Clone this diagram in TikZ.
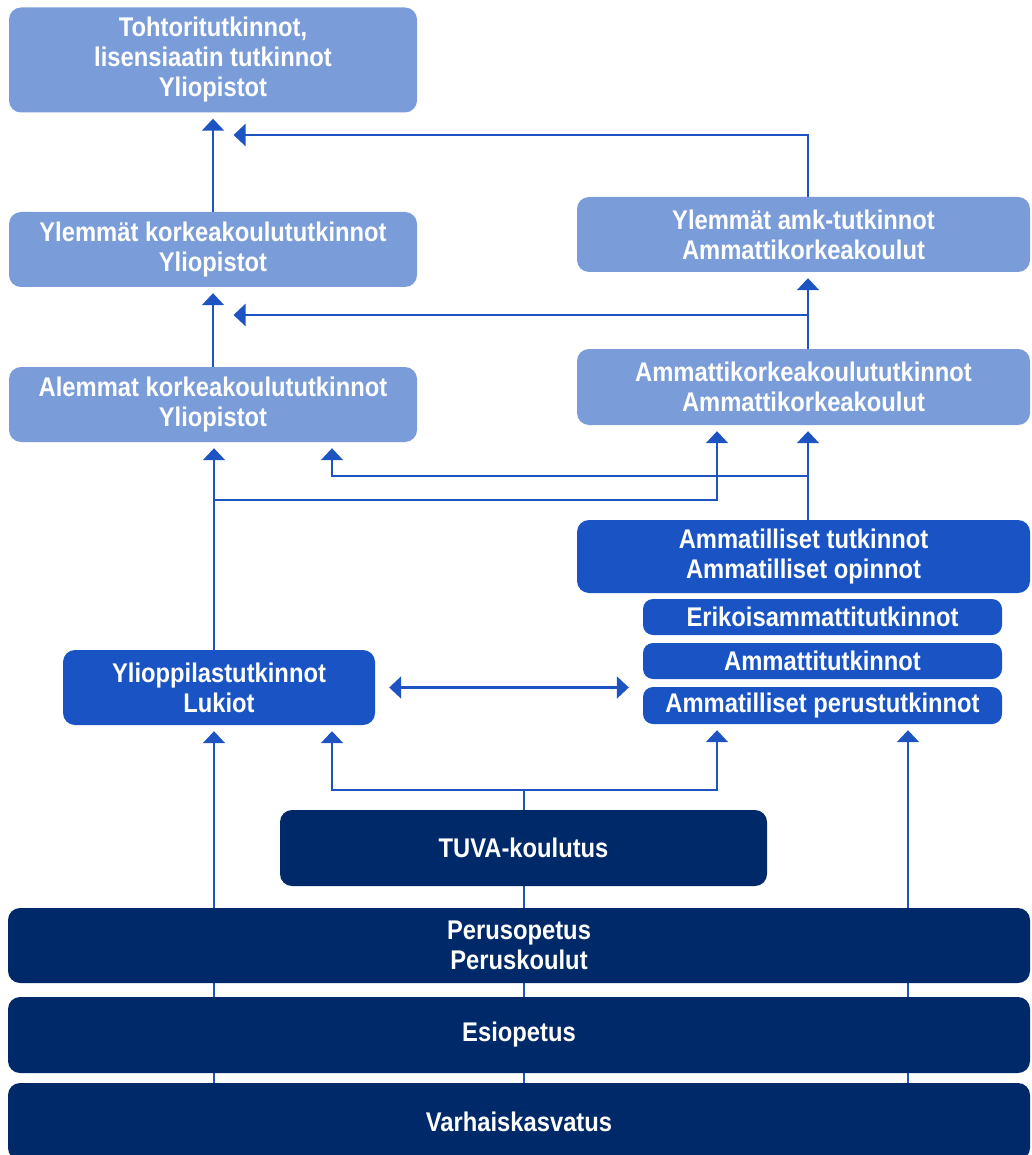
\documentclass[tikz,border=0pt]{standalone}
\usepackage{fontspec}
\setmainfont{Liberation Sans}[FakeStretch=0.88]
\usetikzlibrary{arrows.meta,backgrounds}
\definecolor{lightbox}{RGB}{122,156,216}
\definecolor{midbox}{RGB}{26,84,196}
\definecolor{navybox}{RGB}{0,41,105}
\definecolor{linecol}{RGB}{30,84,194}
\begin{document}
\begin{tikzpicture}[x=1pt,y=-1pt,
  boxbase/.style={rounded corners=12pt, inner sep=0pt, text=white, align=center,
    font=\bfseries\fontsize{27}{30}\selectfont},
  lbox/.style={boxbase, fill=lightbox},
  mbox/.style={boxbase, fill=midbox},
  sbox/.style={boxbase, fill=midbox, rounded corners=10pt},
  nbox/.style={boxbase, fill=navybox},
  conn/.style={draw=linecol, line width=2.2pt},
  tipshape/.tip={Triangle[width=22pt,length=12pt]},
  arr/.style={conn, -tipshape, shorten >=6pt},
  arrtwo/.style={conn, tipshape-tipshape, shorten >=14pt, shorten <=14pt}
]
\useasboundingbox (0,0) rectangle (1031,1155);

% boxes
\node[lbox, minimum width=408, minimum height=105] (t1) at (213,60) {Tohtoritutkinnot,\\lisensiaatin tutkinnot\\Yliopistot};
\node[lbox, minimum width=408, minimum height=75] (ykk) at (213,249.5) {Ylemmät korkeakoulututkinnot\\Yliopistot};
\node[lbox, minimum width=408, minimum height=75] (akk) at (213,404.5) {Alemmat korkeakoulututkinnot\\Yliopistot};
\node[lbox, minimum width=453, minimum height=75] (yamk) at (803.5,234.5) {Ylemmät amk-tutkinnot\\Ammattikorkeakoulut};
\node[lbox, minimum width=453, minimum height=76] (amk) at (803.5,387) {Ammattikorkeakoulututkinnot\\Ammattikorkeakoulut};
\node[mbox, minimum width=453, minimum height=73] (amt) at (803.5,556.5) {Ammatilliset tutkinnot\\Ammatilliset opinnot};
\node[sbox, minimum width=359, minimum height=36] (erik) at (822.5,617) {Erikoisammattitutkinnot};
\node[sbox, minimum width=359, minimum height=36] (ammt) at (822.5,661) {Ammattitutkinnot};
\node[sbox, minimum width=359, minimum height=37] (perus) at (822.5,705.5) {Ammatilliset perustutkinnot};
\node[mbox, minimum width=312, minimum height=75] (ylio) at (219,687.5) {Ylioppilastutkinnot\\Lukiot};
\node[nbox, minimum width=487, minimum height=76] (tuva) at (523.5,848) {TUVA-koulutus};
\node[nbox, minimum width=1022, minimum height=75] (perop) at (519,945.5) {Perusopetus\\Peruskoulut};
\node[nbox, minimum width=1022, minimum height=76] (esi) at (519,1035) {Esiopetus};
\node[nbox, minimum width=1022, minimum height=77] (varh) at (519,1121.5) {Varhaiskasvatus};

% junction coordinates
\coordinate (jtop) at (213.5,135);
\coordinate (jmid) at (213.5,315);
\coordinate (jr) at (808,476);
\coordinate (jl) at (214,500);
\coordinate (jb) at (524,790);

\begin{pgfonlayer}{background}
\fill[white] (0,0) rectangle (1031,1155);
% upper left column
\draw[arr] (ykk.north) -- (t1.south);
\draw[arr] (akk.north) -- (ykk.south);
\draw[arr] (214,0 |- ylio.north) -- (214,0 |- akk.south);
% right column
\draw[arr, shorten >=20pt] (808,0 |- yamk.north) |- (jtop);
\draw[arr] (808,0 |- amk.north) -- (808,0 |- yamk.south);
\draw[arr, shorten >=20pt] (808,315) -- (jmid);
\draw[arr] (808,0 |- amt.north) -- (808,0 |- amk.south);
% crossings
\draw[arr] (jr) -| (332,0 |- akk.south);
\draw[arr] (jl) -| (717,0 |- amk.south);
% bidirectional
\draw[arrtwo] (ylio.east) -- (ylio.east -| perus.west);
% bottom
\draw[arr] (214,0 |- varh.north) -- (214,0 |- ylio.south);
\draw[conn] (524,0 |- varh.north) -- (jb);
\draw[arr] (jb) -| (332,0 |- ylio.south);
\draw[arr] (jb) -| (717,0 |- perus.south);
\draw[arr] (908,0 |- varh.north) -- (908,0 |- perus.south);
\end{pgfonlayer}
\end{tikzpicture}
\end{document}
